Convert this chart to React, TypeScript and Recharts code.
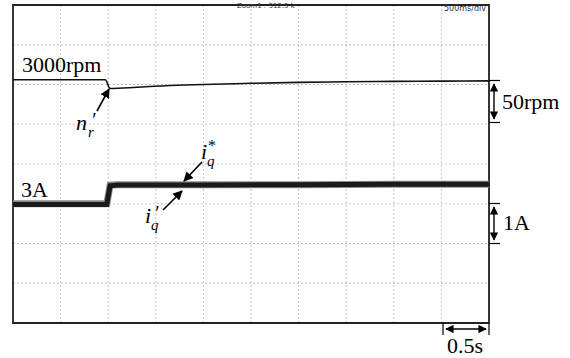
import React from 'react';
import {
  CartesianGrid,
  ComposedChart,
  Line,
  ReferenceArea,
  XAxis,
  YAxis,
} from 'recharts';

// time axis: 10 divisions of 0.5 s
const timeTicks = [0, 0.5, 1, 1.5, 2, 2.5, 3, 3.5, 4, 4.5, 5];
// current axis: 1 A per division
const ampTicks = [0, 1, 2, 3, 4, 5, 6, 7, 8];

// speed n'_r (rpm)
const speedTime = [0, 0.97, 1.02, 1.3, 1.6, 2.0, 2.5, 3.0, 3.5, 4.0, 4.5, 5.0];
const speedRpm = [3000, 3000, 2989, 2990.5, 2992.5, 2994, 2995.5, 2996.7, 2997.4, 2997.9, 2998.2, 2998.5];

// q-axis current i'_q (measured) and i*_q (reference), A
const currentTime = [0, 0.985, 1.02, 1.1, 2.0, 3.0, 4.0, 5.0];
const currentAmp = [2.98, 2.98, 3.45, 3.47, 3.47, 3.48, 3.49, 3.49];
const refAmp = [3.0, 3.0, 3.47, 3.48, 3.48, 3.48, 3.49, 3.49];

const speedData = speedTime.map((t, i) => ({ t, n: speedRpm[i] }));
const currentData = currentTime.map((t, i) => ({ t, iq: currentAmp[i], iqRef: refAmp[i] }));

const serif = '"Liberation Serif", "Times New Roman", serif';

const Arrow = ({ x1, y1, x2, y2 }: any) => (
  <line x1={x1} y1={y1} x2={x2} y2={y2} stroke="#000" strokeWidth={1.6} markerEnd="url(#head)" />
);

const Overlay = () => (
  <svg width={570} height={358} style={{ position: 'absolute', left: 0, top: 0, pointerEvents: 'none' }}>
    <defs>
      <marker id="head" viewBox="0 0 10 10" refX="9" refY="5" markerWidth="6" markerHeight="6" orient="auto-start-reverse">
        <path d="M0,0 L10,5 L0,10 z" fill="#000" />
      </marker>
    </defs>

    {/* scope header */}
    <text x={237} y={8} fontSize={7} fontFamily="DejaVu Sans, sans-serif" fill="#333">Zoom1 : 312.5 k</text>
    <text x={444} y={11} fontSize={8} fontFamily="DejaVu Sans, sans-serif" fill="#333">500ms/div</text>

    {/* speed annotations */}
    <text x={22} y={72} fontSize={22} fontFamily={serif}>3000rpm</text>
    <text fontFamily={serif} fontStyle="italic">
      <tspan x={76} y={130} fontSize={22}>n</tspan>
      <tspan x={91} y={127} fontSize={20}>′</tspan>
      <tspan x={88} y={137} fontSize={15}>r</tspan>
    </text>
    <Arrow x1={97} y1={111} x2={109} y2={89} />

    {/* current annotations */}
    <text x={21} y={197} fontSize={22} fontFamily={serif}>3A</text>
    <text fontFamily={serif} fontStyle="italic">
      <tspan x={201} y={159} fontSize={22}>i</tspan>
      <tspan x={208} y={151} fontSize={16} fontStyle="normal">*</tspan>
      <tspan x={207} y={166} fontSize={15}>q</tspan>
    </text>
    <Arrow x1={202} y1={162} x2={184} y2={181} />
    <text fontFamily={serif} fontStyle="italic">
      <tspan x={145} y={223} fontSize={22}>i</tspan>
      <tspan x={154} y={220} fontSize={20}>′</tspan>
      <tspan x={151} y={230} fontSize={15}>q</tspan>
    </text>
    <Arrow x1={163} y1={210} x2={182} y2={191} />

    {/* 50rpm scale */}
    <line x1={489} y1={80.5} x2={500} y2={80.5} stroke="#000" strokeWidth={1.2} />
    <line x1={489} y1={122.5} x2={500} y2={122.5} stroke="#000" strokeWidth={1.2} />
    <line x1={494} y1={84} x2={494} y2={119} stroke="#000" strokeWidth={1.4} markerStart="url(#head)" markerEnd="url(#head)" />
    <text x={502} y={109} fontSize={22} fontFamily={serif}>50rpm</text>

    {/* 1A scale */}
    <line x1={489} y1={203.5} x2={500} y2={203.5} stroke="#000" strokeWidth={1.2} />
    <line x1={489} y1={243.5} x2={500} y2={243.5} stroke="#000" strokeWidth={1.2} />
    <line x1={494} y1={207} x2={494} y2={240} stroke="#000" strokeWidth={1.4} markerStart="url(#head)" markerEnd="url(#head)" />
    <text x={503} y={230} fontSize={22} fontFamily={serif}>1A</text>

    {/* 0.5s scale */}
    <line x1={443} y1={323} x2={443} y2={335} stroke="#000" strokeWidth={1.2} />
    <line x1={489} y1={323} x2={489} y2={335} stroke="#000" strokeWidth={1.2} />
    <line x1={446} y1={329} x2={486} y2={329} stroke="#000" strokeWidth={1.4} markerStart="url(#head)" markerEnd="url(#head)" />
    <text x={447} y={353} fontSize={22} fontFamily={serif}>0.5s</text>
  </svg>
);

export default function App() {
  return (
    <div style={{ position: 'absolute', left: 0, top: 0, width: 570, height: 358, background: '#fff' }}>
      <ComposedChart
        width={570}
        height={358}
        margin={{ top: 5, right: 81, left: 13, bottom: 35 }}
      >
        <XAxis dataKey="t" type="number" domain={[0, 5]} ticks={timeTicks} hide />
        <YAxis yAxisId="i" type="number" domain={[0, 8]} ticks={ampTicks} hide />
        <YAxis yAxisId="n" type="number" domain={[2694, 3094]} hide />
        <CartesianGrid yAxisId="i" stroke="#c4c4c4" strokeDasharray="2 2" />
        <Line
          yAxisId="i"
          data={currentData}
          dataKey="iqRef"
          type="linear"
          stroke="#8a8a8a"
          strokeWidth={7}
          dot={false}
          isAnimationActive={false}
        />
        <Line
          yAxisId="i"
          data={currentData}
          dataKey="iq"
          type="linear"
          stroke="#1a1a1a"
          strokeWidth={5}
          dot={false}
          isAnimationActive={false}
        />
        <Line
          yAxisId="n"
          data={speedData}
          dataKey="n"
          type="monotone"
          stroke="#111"
          strokeWidth={1.6}
          dot={false}
          isAnimationActive={false}
        />
        <ReferenceArea
          yAxisId="i"
          x1={0}
          x2={5}
          y1={0}
          y2={8}
          fill="none"
          fillOpacity={0}
          stroke="#222"
          strokeWidth={1.8}
        />
      </ComposedChart>
      <Overlay />
    </div>
  );
}
